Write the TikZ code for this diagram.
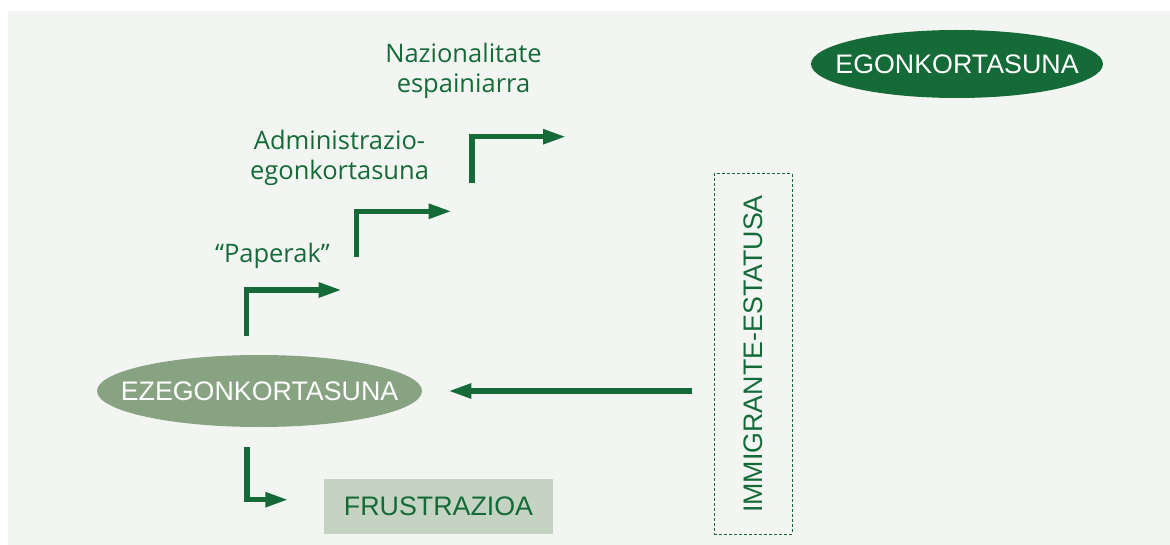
\documentclass[tikz,border=0pt]{standalone}
\usepackage{fontspec}
\setmainfont{Liberation Sans}
\newfontfamily\labelfont{Open Sans}
\usetikzlibrary{arrows.meta,shapes.geometric}
\definecolor{dkgreen}{RGB}{21,107,56}
\definecolor{midgreen}{RGB}{135,163,130}
\definecolor{palegreen}{RGB}{197,211,195}
\definecolor{bgcol}{RGB}{243,245,242}
\begin{document}
\begin{tikzpicture}[x=1pt,y=-1pt,
  capsfont/.style={font=\fontsize{26.8}{31}\selectfont},
  lbl/.style={font=\labelfont\fontsize{25.5}{30.5}\selectfont, text=dkgreen, align=center, inner sep=0pt},
  tipstyle/.style={-{Triangle[length=23pt,width=14pt]}},
  stair/.style={draw=dkgreen, line width=5.3pt, line join=miter, tipstyle},
  statebox/.style={ellipse, inner sep=0pt},
  statetext/.style={inner sep=0pt, capsfont, text=white}
]
\useasboundingbox (0,0) rectangle (1170,545);
\fill[bgcol] (8,11) rectangle (1170,545);

% nodes
\node[statebox, fill=dkgreen, minimum width=292pt, minimum height=68pt] (stab) at (957,64) {};
\node[statetext] (stabtxt) at (stab.center) {EGONKORTASUNA};
\node[statebox, fill=midgreen, minimum width=325pt, minimum height=72pt] (unstab) at (259.5,391) {};
\node[statetext] (unstabtxt) at (unstab.center) {EZEGONKORTASUNA};
\node[fill=palegreen, minimum width=229pt, minimum height=55pt, inner sep=0pt, capsfont, text=dkgreen] (frus) at (438.5,506.5) {FRUSTRAZIOA};
\node[draw=dkgreen, dashed, dash pattern=on 3pt off 2pt, line width=1pt, minimum width=78pt, minimum height=360pt, inner sep=0pt] (imm) at (753,354) {};
\node[rotate=90, capsfont, text=dkgreen, inner sep=0pt] (immtxt) at (imm.center) {IMMIGRANTE-ESTATUSA};

\node[lbl] (nat) at (463.5,71) {Nazionalitate\\espainiarra};
\node[lbl] (adm) at (339.5,158) {Administrazio-\\egonkortasuna};
\node[lbl] (pap) at (272.5,256) {“Paperak”};

% connector coordinates
\coordinate (s1a) at (246.7,336);
\coordinate (s1b) at (341.7,290);
\coordinate (s2a) at (356.7,256.7);
\coordinate (s2b) at (451.7,211.3);
\coordinate (s3a) at (472,182.7);
\coordinate (s3b) at (566,136.7);
\coordinate (la) at (247,446.7);
\coordinate (lb) at (288.3,499.7);
\coordinate (ha) at (691.7,391);
\coordinate (hb) at (448.3,391);

\draw[stair] (s1a) |- (s1b);
\draw[stair] (s2a) |- (s2b);
\draw[stair] (s3a) |- (s3b);
\draw[stair] (la) |- (lb);
\draw[stair] (ha) -- (hb);
\end{tikzpicture}
\end{document}
